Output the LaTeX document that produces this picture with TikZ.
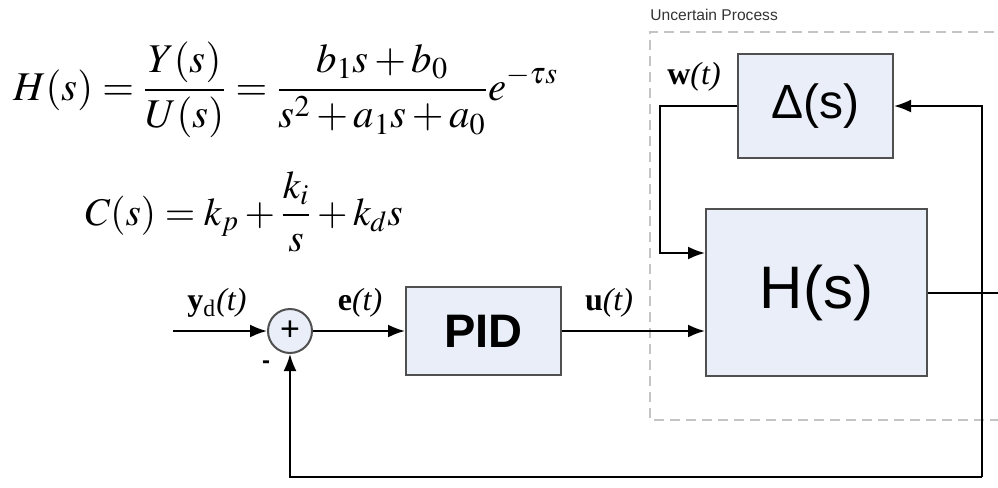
\documentclass[tikz,border=0pt]{standalone}
\usepackage{mathptmx}
\usepackage[no-math]{fontspec}
\setmainfont{Liberation Serif}
\setsansfont{Liberation Sans}
\usetikzlibrary{arrows.meta,positioning}

\definecolor{blockfill}{HTML}{EAEEF8}
\definecolor{blockline}{HTML}{505050}
\definecolor{dashline}{HTML}{C4C4C4}

\tikzset{
  block/.style={draw=blockline,fill=blockfill,line width=1pt,font=\sffamily},
  sig/.style={line width=1pt,-{Latex[length=8.5pt,width=6.5pt]}},
  wire/.style={line width=1pt},
  siglabel/.style={inner sep=0pt,font=\fontsize{16}{18}\selectfont},
  eqn/.style={anchor=base west,inner sep=0pt},
}

\begin{document}
\begin{tikzpicture}[x=0.5pt,y=-0.5pt]
\useasboundingbox (0,0) rectangle (998,488);

% uncertain process frame
\draw[dashline,line width=1pt,dash pattern=on 5pt off 3pt] (1010,32) -- (650,32) -- (650,420) -- (1010,420);
\node[anchor=west,inner sep=0pt,font=\sffamily\fontsize{7.8}{9}\selectfont,text=black!80] (proc) at (650,15) {Uncertain Process};

% plant and controller
\node[eqn,font=\fontsize{20.4}{24}\selectfont] (eqh) at (13,100) {$\displaystyle H(s)=\frac{Y(s)}{U(s)}=\frac{b_1s+b_0}{s^2+a_1s+a_0}e^{-\tau s}$};
\node[eqn,font=\fontsize{19.6}{23}\selectfont] (eqc) at (85,225) {$\displaystyle C(s)=k_p+\frac{k_i}{s}+k_ds$};

% blocks
\node[block,circle,minimum size=22pt,inner sep=0pt,font=\sffamily\fontsize{17}{17}\selectfont] (sum) at (290,331) {+};
\node[block,minimum width=77.5pt,minimum height=44pt,font=\sffamily\bfseries\fontsize{23.5}{24}\selectfont] (pid) at (483.5,331) {PID};
\node[block,minimum width=110.5pt,minimum height=83.5pt,font=\sffamily\fontsize{30}{30}\selectfont] (hs) at (816.5,292.5) {H(s)};
\node[block,minimum width=77.5pt,minimum height=52pt,font=\sffamily\fontsize{24}{24}\selectfont] (delta) at (815.5,106) {Δ(s)};

% corners of the loops
\coordinate (yin) at (173,331);
\coordinate (wleft) at (660,106);
\coordinate (wdown) at (660,253);
\coordinate (hout) at (998,292.5);
\coordinate (fbcorner) at (982,477);
\coordinate (fbleft) at (290,477);

% signals
\draw[sig] (yin) -- (sum.west);
\draw[sig] (sum) -- (pid);
\draw[sig] (pid.east) -- (pid.east -| hs.west);
\draw[sig] (delta.west) -- (wleft) -- (wdown) -- (wdown -| hs.west);
\draw[wire] (hs.east) -- (hout);
\draw[sig] (fbcorner) -- (fbcorner |- delta.east) -- (delta.east);
\draw[sig] (fbcorner) -- (fbleft) -- (sum.south);

% signal names
\node[siglabel] (yd) at (217,303) {\textbf{y}\textsubscript{d}\textit{(t)}};
\node[siglabel] (e) at (360,303) {\textbf{e}\textit{(t)}};
\node[siglabel] (u) at (609,303) {\textbf{u}\textit{(t)}};
\node[siglabel] (w) at (694,77) {\textbf{w}\textit{(t)}};
\node[inner sep=0pt,font=\sffamily\bfseries\fontsize{12}{12}\selectfont] (minus) at (266,365) {-};
\end{tikzpicture}
\end{document}
